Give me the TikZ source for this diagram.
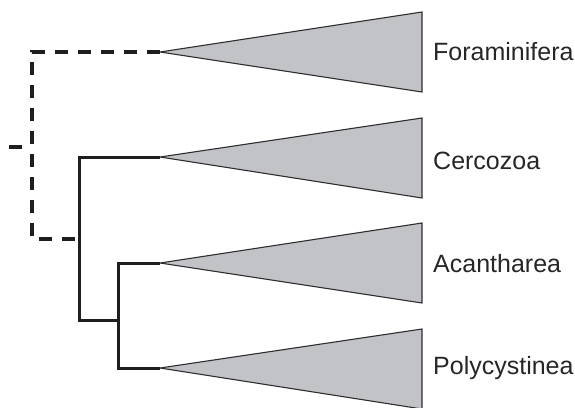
\documentclass[tikz,border=0pt]{standalone}
\usepackage{fontspec}
\setmainfont{Liberation Sans}
\begin{document}
\begin{tikzpicture}[x=1pt,y=-1pt,
  clade/.style={fill=cladegray,draw=edgegray,line width=1.1pt,line join=miter},
  branch/.style={draw=linegray,line width=3pt,line cap=butt,line join=miter},
  uncertain/.style={draw=linegray,line width=4pt,dash pattern=on 13pt off 10pt,line join=miter},
  taxon/.style={anchor=west,inner sep=0pt,font=\fontsize{25}{30}\selectfont,text=black!85}]
\definecolor{cladegray}{HTML}{C2C3C7}
\definecolor{edgegray}{HTML}{2E2E30}
\definecolor{linegray}{HTML}{1E1E20}
\useasboundingbox (0,0) rectangle (575,407);

% apexes of the collapsed clades
\coordinate (foraApex) at (160,52);
\coordinate (cercApex) at (160,157);
\coordinate (acanApex) at (160,263);
\coordinate (polyApex) at (160,368);

% internal nodes
\coordinate (root) at (32,147);
\coordinate (rootStub) at (9,147);
\coordinate (ringNode) at (79,239);
\coordinate (spumNode) at (118,320);

% collapsed clades as triangles
\filldraw[clade] (foraApex) -- (422,12) -- (422,92) -- cycle;
\filldraw[clade] (cercApex) -- (422,118) -- (422,198) -- cycle;
\filldraw[clade] (acanApex) -- (422,223) -- (422,303) -- cycle;
\filldraw[clade] (polyApex) -- (422,329) -- (422,409) -- cycle;

% taxon labels
\node[taxon] (fora) at (433,52) {Foraminifera};
\node[taxon] (cerc) at (433,161) {Cercozoa};
\node[taxon] (acan) at (433,264) {Acantharea};
\node[taxon] (poly) at (433,368) {Polycystinea};

% uncertain (dashed) placement of Foraminifera
\draw[uncertain] (rootStub) -- (root |- rootStub);
\draw[uncertain] (foraApex) -- (root |- foraApex) -- (root |- ringNode) -- (ringNode);

% resolved branches
\draw[branch] (cercApex) -- (ringNode |- cercApex) -- (ringNode |- spumNode) -- (spumNode);
\draw[branch] (acanApex) -- (spumNode |- acanApex) -- (spumNode |- polyApex) -- (polyApex);
\end{tikzpicture}
\end{document}
